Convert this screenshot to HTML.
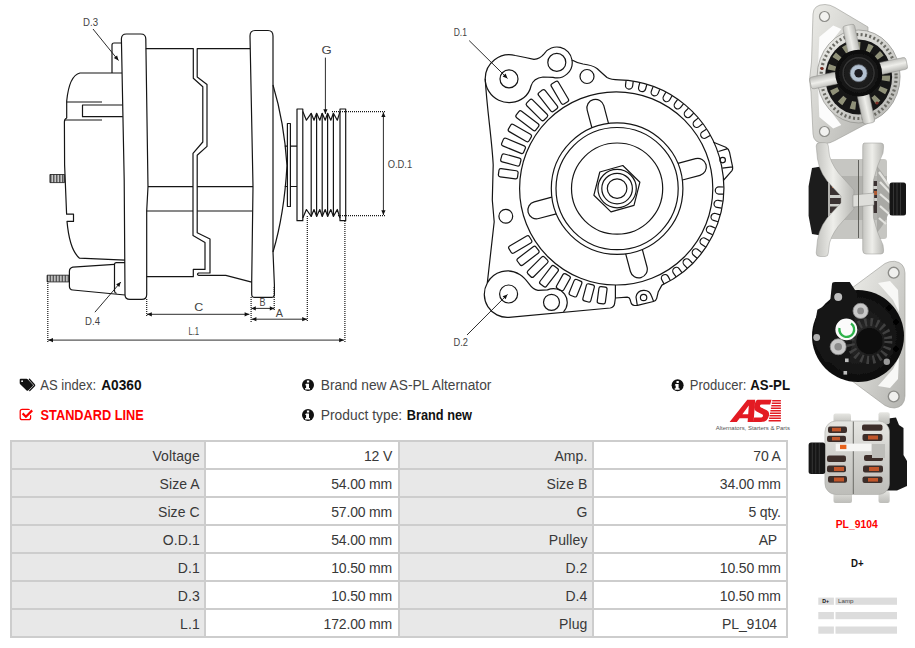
<!DOCTYPE html>
<html><head><meta charset="utf-8">
<style>
html,body{margin:0;padding:0;background:#fff;}
body{width:915px;height:648px;position:relative;overflow:hidden;font-family:"Liberation Sans",sans-serif;color:#333;}
.t{position:absolute;white-space:nowrap;font-size:13.5px;line-height:16px;height:16px;color:#333;}
.b{font-weight:bold;font-size:13px;color:#1a1a1a;}
.r{color:#ff0000;}
#tb{position:absolute;left:10px;top:440px;width:778px;height:198px;background:#cdcdcd;}
#tb div{position:absolute;width:192px;height:26px;line-height:29.4px;overflow:hidden;font-size:14px;color:#383838;text-align:right;box-sizing:border-box;white-space:nowrap;background:#fff;}
#tb div.l{background:#e8e8e8;}
#tb .c0{left:2px;padding-right:4.2px;letter-spacing:0.1px;}
#tb .c1{left:196px;padding-right:5.9px;letter-spacing:-0.17px;}
#tb .c2{left:390px;padding-right:4.5px;letter-spacing:0.1px;}
#tb .c3{left:584px;padding-right:5.3px;letter-spacing:-0.17px;}
</style></head><body>
<svg width="915" height="648" viewBox="0 0 915 648" style="position:absolute;left:0;top:0">
<g fill="none" stroke="#151515" stroke-width="1.2" stroke-linejoin="round" stroke-linecap="butt">
<path d="M126.4,34 L140.8,34 Q145.8,34 145.8,39 L148,186.7 L146.7,211 L146.7,294.4 Q146.7,299.4 141.7,299.4 L130,299.4 Q125,299.4 125,294.4 L124.2,180 L121.4,39 Q121.4,34 126.4,34 Z"/>
<path d="M121.5,43 L114,43 Q112,43 112,45 L112,73"/>
<path d="M122,73 L80,73 C71,75 68,88 66.7,101 L66.7,118 Q64.4,119 64.4,122 L64.6,165 L66.6,214.2 L73.5,214.2 L73.5,221.4 L67,221.4 C68.5,238 72,252 79.5,258.2 L125,260.2"/>
<path d="M66.7,102 L102,102 M64.6,120 L102,120 M122.5,105 L82.5,105 L82.5,116.7 L122.8,116.7"/>
<path d="M50,178.5 L64.6,178.5" stroke-width="8" stroke-dasharray="0.75 0.75" stroke="#222"/>
<rect x="49.9" y="174.5" width="14.7" height="8.1" stroke-width="0.8"/>
<path d="M125,262.6 L116.4,262.6 Q114.5,262.6 114.5,264.6 L114.5,291 Q114.5,292.8 116.5,293.4"/>
<path d="M114.4,264.4 L72.8,267.2 Q69.4,268 69.4,271.5 L69.4,286.2 Q69.4,289.6 72.8,290 L125,295"/>
<path d="M47.2,278.5 L69.4,278.5" stroke-width="6.4" stroke-dasharray="0.75 0.75" stroke="#222"/>
<rect x="47.1" y="275.2" width="22.3" height="6.7" stroke-width="0.8"/>
<path d="M145.8,48.6 L193.3,48.6 L193.3,78.3 L202.8,86.7 L202.8,142 L193,153.3 L193,235.5 L205,242.5 L205,269.4 L193.3,269.4 L193.3,276.7 L146.7,276.7"/>
<path d="M250,48.6 L197.2,48.6 L197.2,77 L207,84.4 L207,146.4 L197.2,155.3 L197.2,232.8 L210,239 L210,273 L198.5,273 Q196.5,274.2 198.5,275.3 L225.8,275.3 L251.7,282.2"/>
<path d="M148,186.7 L193,186.7 M197.2,186.7 L253,186.7 M146.7,211 L193,211 M197.2,211 L252.2,211"/>
<path d="M255,30.5 L268,30.5 Q273,30.5 273,36 L273,252 L274.4,285 L274.4,294.2 Q274.4,297.4 271.4,297.4 L254.7,297.4 Q251.7,297.4 251.7,294.2 L251.7,282 L253,186.7 L250,36 Q250,30.5 255,30.5 Z"/>
<path d="M273,85 C279,105 285,135 287,165.6 C285,200 279,232 273,252"/>
<rect x="287.4" y="123.5" width="3" height="83"/>
<path d="M284.8,146.2 L287.4,146.2 M290.4,146.2 L297,146.2 M284.8,186.5 L287.4,186.5 M290.4,186.5 L297,186.5"/>
<rect x="297" y="109" width="5.8" height="111.7"/>
<rect x="340" y="109" width="5.7" height="111.7"/>
<path d="M302.8,111.6 L306.4,120.2 L311.2,113.3 L314,120.2 L316.6,113.3 L319.8,120.2 L322.2,113.3 L325.2,120.2 L327.6,113.3 L330.8,120.2 L333.4,113.3 L337.3,120.2 L340,111.6"/>
<path d="M302.8,218.1 L306.4,209.5 L311.2,216.4 L314,209.5 L316.6,216.4 L319.8,209.5 L322.2,216.4 L325.2,209.5 L327.6,216.4 L330.8,209.5 L333.4,216.4 L337.3,209.5 L340,218.1"/>
<path d="M311.2,113.3 L311.2,216.4 M316.6,113.3 L316.6,216.4 M322.2,113.3 L322.2,216.4 M327.6,113.3 L327.6,216.4 M333.4,113.3 L333.4,216.4 "/>
<g stroke-dasharray="1 1" stroke-width="1.2">
<path d="M332,111.6 L386,111.6 M338,215.7 L386,215.7 M146.7,299 L146.7,317 M251.1,297 L251.1,322 M274.2,287 L274.2,311 M307.3,216 L307.3,322 M344.9,221 L344.9,343 M47.8,281 L47.8,342"/>
</g>
<path d="M383.4,112.3 L383.4,215" stroke-width="0.9"/><path d="M383.4,215 L381.3,210.2 L385.5,210.2 Z" fill="#111" stroke="none"/><path d="M383.4,112.3 L385.5,117.1 L381.3,117.1 Z" fill="#111" stroke="none"/>
<path d="M325.4,57.6 L325.4,114" stroke-width="0.9"/><path d="M325.4,114 L323.3,109.2 L327.5,109.2 Z" fill="#111" stroke="none"/>
<path d="M147,314.3 L249.4,314.3" stroke-width="0.9"/><path d="M249.4,314.3 L244.6,316.4 L244.6,312.2 Z" fill="#111" stroke="none"/><path d="M147,314.3 L151.8,312.2 L151.8,316.4 Z" fill="#111" stroke="none"/>
<path d="M251.4,308.4 L274.2,308.4" stroke-width="0.9"/><path d="M274.2,308.4 L269.8,310.5 L269.8,306.3 Z" fill="#111" stroke="none"/><path d="M251.4,308.4 L255.8,306.3 L255.8,310.5 Z" fill="#111" stroke="none"/>
<path d="M251.6,319.2 L307,319.2" stroke-width="0.9"/><path d="M307,319.2 L302.2,321.3 L302.2,317.1 Z" fill="#111" stroke="none"/><path d="M251.6,319.2 L256.4,317.1 L256.4,321.3 Z" fill="#111" stroke="none"/>
<path d="M48.2,340.1 L344,340.1" stroke-width="0.9"/><path d="M344,340.1 L339.2,342.2 L339.2,338 Z" fill="#111" stroke="none"/><path d="M48.2,340.1 L53,338 L53,342.2 Z" fill="#111" stroke="none"/>
<path d="M93,29 L118.5,60.5" stroke-width="0.9"/><path d="M118.5,60.5 L113.8,58.1 L117.1,55.4 Z" fill="#111" stroke="none"/>
<path d="M94.9,312.2 L120.8,282" stroke-width="0.9"/><path d="M120.8,282 L119.3,287 L116.1,284.3 Z" fill="#111" stroke="none"/>
<path d="M469.2,40.6 L507.5,78.4" stroke-width="0.9"/><path d="M507.5,78.4 L502.6,76.5 L505.6,73.5 Z" fill="#111" stroke="none"/>
<path d="M467,335 L507.5,294.4" stroke-width="0.9"/><path d="M507.5,294.4 L505.6,299.3 L502.6,296.3 Z" fill="#111" stroke="none"/>
<circle cx="617.1" cy="188.6" r="9.8" />
<circle cx="617.1" cy="188.6" r="15.3" />
<circle cx="617.1" cy="188.6" r="19.2" />
<circle cx="617.1" cy="188.6" r="45.6" />
<circle cx="617.1" cy="188.6" r="61.1" />
<circle cx="617.1" cy="188.6" r="65.8" />
<circle cx="616.2" cy="188.4" r="96.6" />
<polygon points="622.8,165.5 639.9,182.2 634,205.4 611,211.9 593.9,195.2 599.8,172"/>
<path transform="rotate(-15 617.1 188.6)" d="M608.5,123.3 L608.5,105.1 A8.6,8.6 0 0 1 625.7,105.1 L625.7,123.3"/>
<path transform="rotate(75 617.1 188.6)" d="M608.5,123.3 L608.5,105.1 A8.6,8.6 0 0 1 625.7,105.1 L625.7,123.3"/>
<path transform="rotate(165 617.1 188.6)" d="M608.5,123.3 L608.5,105.1 A8.6,8.6 0 0 1 625.7,105.1 L625.7,123.3"/>
<path transform="rotate(255 617.1 188.6)" d="M608.5,123.3 L608.5,105.1 A8.6,8.6 0 0 1 625.7,105.1 L625.7,123.3"/>
<path transform="rotate(7.3 616 187.6)" d="M612.4,80.1 L612.4,84.7 A3.6,3.6 0 0 0 619.6,84.7 L619.6,80.1"/>
<path transform="rotate(14.7 616 187.6)" d="M612.4,80.1 L612.4,84.7 A3.6,3.6 0 0 0 619.6,84.7 L619.6,80.1"/>
<path transform="rotate(22.1 616 187.6)" d="M612.4,80.1 L612.4,84.7 A3.6,3.6 0 0 0 619.6,84.7 L619.6,80.1"/>
<path transform="rotate(29.5 616 187.6)" d="M612.4,80.1 L612.4,84.7 A3.6,3.6 0 0 0 619.6,84.7 L619.6,80.1"/>
<path transform="rotate(36.9 616 187.6)" d="M612.4,80.1 L612.4,84.7 A3.6,3.6 0 0 0 619.6,84.7 L619.6,80.1"/>
<path transform="rotate(44.3 616 187.6)" d="M612.4,80.1 L612.4,84.7 A3.6,3.6 0 0 0 619.6,84.7 L619.6,80.1"/>
<path transform="rotate(51.7 616 187.6)" d="M612.4,80.1 L612.4,84.7 A3.6,3.6 0 0 0 619.6,84.7 L619.6,80.1"/>
<path transform="rotate(59.1 616 187.6)" d="M612.4,80.1 L612.4,84.7 A3.6,3.6 0 0 0 619.6,84.7 L619.6,80.1"/>
<path transform="rotate(91.6 616 187.6)" d="M612.4,80.1 L612.4,84.7 A3.6,3.6 0 0 0 619.6,84.7 L619.6,80.1"/>
<path transform="rotate(99.1 616 187.6)" d="M612.4,80.1 L612.4,84.7 A3.6,3.6 0 0 0 619.6,84.7 L619.6,80.1"/>
<path transform="rotate(106.6 616 187.6)" d="M612.4,80.1 L612.4,84.7 A3.6,3.6 0 0 0 619.6,84.7 L619.6,80.1"/>
<path transform="rotate(114.1 616 187.6)" d="M612.4,80.1 L612.4,84.7 A3.6,3.6 0 0 0 619.6,84.7 L619.6,80.1"/>
<path transform="rotate(121.6 616 187.6)" d="M612.4,80.1 L612.4,84.7 A3.6,3.6 0 0 0 619.6,84.7 L619.6,80.1"/>
<path transform="rotate(129.1 616 187.6)" d="M612.4,80.1 L612.4,84.7 A3.6,3.6 0 0 0 619.6,84.7 L619.6,80.1"/>
<path transform="rotate(136.6 616 187.6)" d="M612.4,80.1 L612.4,84.7 A3.6,3.6 0 0 0 619.6,84.7 L619.6,80.1"/>
<path transform="rotate(144.1 616 187.6)" d="M612.4,80.1 L612.4,84.7 A3.6,3.6 0 0 0 619.6,84.7 L619.6,80.1"/>
<path transform="rotate(151.6 616 187.6)" d="M612.4,80.1 L612.4,84.7 A3.6,3.6 0 0 0 619.6,84.7 L619.6,80.1"/>
<rect transform="rotate(187.5 616.2 188.4)" x="612.1" y="72.2" width="8.2" height="16.9" rx="2" ry="2"/>
<rect transform="rotate(194.8 616.2 188.4)" x="612.1" y="71.5" width="8.2" height="17.6" rx="2" ry="2"/>
<rect transform="rotate(202.2 616.2 188.4)" x="612.1" y="72.2" width="8.2" height="16.9" rx="2" ry="2"/>
<rect transform="rotate(209.4 616.2 188.4)" x="612.1" y="72.4" width="8.2" height="16.7" rx="2" ry="2"/>
<rect transform="rotate(217.4 616.2 188.4)" x="612.1" y="66.4" width="8.2" height="22.7" rx="2" ry="2"/>
<rect transform="rotate(225 616.2 188.4)" x="612.1" y="65.6" width="8.2" height="23.5" rx="2" ry="2"/>
<rect transform="rotate(232.6 616.2 188.4)" x="612.1" y="65.7" width="8.2" height="23.4" rx="2" ry="2"/>
<rect transform="rotate(239.7 616.2 188.4)" x="612.1" y="65.4" width="8.2" height="23.7" rx="2" ry="2"/>
<rect transform="rotate(277.7 616.2 188.4)" x="612.1" y="69.8" width="8.2" height="19.3" rx="2" ry="2"/>
<rect transform="rotate(285.1 616.2 188.4)" x="612.1" y="69.4" width="8.2" height="19.7" rx="2" ry="2"/>
<rect transform="rotate(292.5 616.2 188.4)" x="612.1" y="65.4" width="8.2" height="23.7" rx="2" ry="2"/>
<rect transform="rotate(299.9 616.2 188.4)" x="612.1" y="65.4" width="8.2" height="23.7" rx="2" ry="2"/>
<rect transform="rotate(307.3 616.2 188.4)" x="612.1" y="64.4" width="8.2" height="24.7" rx="2" ry="2"/>
<rect transform="rotate(314.7 616.2 188.4)" x="612.1" y="64.7" width="8.2" height="24.4" rx="2" ry="2"/>
<rect transform="rotate(322.1 616.2 188.4)" x="612.1" y="65.4" width="8.2" height="23.7" rx="2" ry="2"/>
<rect transform="rotate(329.5 616.2 188.4)" x="612.1" y="65.6" width="8.2" height="23.5" rx="2" ry="2"/>
<circle cx="509" cy="78.9" r="9" />
<circle cx="508.6" cy="294" r="9" />
<circle cx="556.8" cy="62.4" r="9" />
<circle cx="551.5" cy="302.3" r="8" />
<circle cx="587" cy="76.5" r="7" />
<circle cx="505.8" cy="216.3" r="6.9" />
<circle cx="722.7" cy="160.1" r="2.7" />
<circle cx="643.6" cy="297.5" r="3.2" />
<path d="M544.3,53.6 A15.3,15.3 0 0 1 572,60 Q576,62.5 583,64 Q592,65 597,68.5 Q603,74 607,77.5 Q611,79.8 619,79.8 A107.8,107.8 0 0 1 661.9,285.1 L658.3,291.7 L656.7,298.3 Q656,301 653.4,301.5 L637.5,305.4 L634.5,305.5 Q631.5,305 631,302.6 L629.9,299 Q629.5,297.3 627.2,297.2 L615.4,298 L614.6,303.7 Q614,307.5 610.2,308 L508.9,317.3 A23,23 0 0 1 487.3,283 L494.2,221.7 L492.3,200 L493.2,165 C492,140 487,110 485.2,78.7 A24,24 0 0 1 515.4,55.5 Q526,57.5 534,59.3 Q540,59 544.3,53.6 Z"/>
<path d="M615.4,285 L615.4,298"/>
<path d="M637.3,305.4 L636,297 A8,8 0 0 1 651.5,296 L653.6,301.4"/>
<path d="M485.2,78.7 A24,24 0 0 0 524,97.5 Q529.5,93 531,86 Q533.5,78 543,77 L553,77.3 A15.3,15.3 0 0 0 572,60"/>
<path d="M487.3,283 A23,23 0 0 1 519.7,274.4 Q524,277 528.9,283.6 Q533,289.5 538,290.4 L547.5,289.9 A13.8,13.8 0 0 1 563.5,311.8"/>
<path d="M713.5,142.2 L725.8,147.2 Q728.5,148.5 729.5,152.1 L732.6,166.9 Q733,169 732,170.6 L723.3,180.5 M718.4,151.5 L727.7,148.6 M722.3,168.1 L732.6,166.9"/>
</g>
<g font-family="Liberation Sans, sans-serif" font-size="10.6" fill="#444">
<text x="83" y="25.9" textLength="15" lengthAdjust="spacingAndGlyphs">D.3</text>
<text x="85.1" y="324.9" textLength="14.9" lengthAdjust="spacingAndGlyphs">D.4</text>
<text x="194.3" y="311.1" textLength="9" lengthAdjust="spacingAndGlyphs">C</text>
<text x="188.4" y="334.8" textLength="10.8" lengthAdjust="spacingAndGlyphs">L.1</text>
<text x="259.5" y="306.1" textLength="6" lengthAdjust="spacingAndGlyphs">B</text>
<text x="275.8" y="317.2" textLength="7.2" lengthAdjust="spacingAndGlyphs">A</text>
<text x="321.6" y="53.6" textLength="10.2" lengthAdjust="spacingAndGlyphs">G</text>
<text x="387.7" y="168.1" textLength="24.5" lengthAdjust="spacingAndGlyphs">O.D.1</text>
<text x="453.7" y="35.5" textLength="13.3" lengthAdjust="spacingAndGlyphs">D.1</text>
<text x="453.5" y="345.8" textLength="14.5" lengthAdjust="spacingAndGlyphs">D.2</text>
</g>
<path fill="#111" d="M19.7,379.8 Q19.7,378.8 20.7,378.8 L26.6,378.8 Q27.2,378.8 27.7,379.3 L32.7,384.4 Q33.5,385.2 32.7,386 L28.2,390.4 Q27.4,391.2 26.6,390.4 L20.2,384.2 Q19.7,383.7 19.7,383 Z"/>
<circle cx="22.1" cy="381.2" r="0.9" fill="#fff"/>
<path fill="none" stroke="#111" stroke-width="1.3" stroke-linejoin="round" stroke-linecap="round" d="M29.4,379.3 L34.4,384.7 Q34.9,385.2 34.4,385.8 L29.7,390.6"/>
<path fill="none" stroke="#ff0000" stroke-width="1.25" stroke-linecap="round" d="M29.2,409.5 Q28.6,409.3 28,409.3 L22.2,409.3 Q20.2,409.3 20.2,411.3 L20.2,417.7 Q20.2,419.7 22.2,419.7 L28.6,419.7 Q30.6,419.7 30.6,417.7 L30.6,415.6"/>
<path fill="none" stroke="#ff0000" stroke-width="2.2" stroke-linejoin="miter" d="M22.6,413.4 L25.9,416.7 L32.2,410.4"/>
<circle cx="308" cy="385" r="6" fill="#111"/><path fill="#fff" d="M306.9,380.6 h2.3 v2 h-2.3 z M305.9,383.7 h3.1 v4.3 h1 v1.5 h-4.9 v-1.5 h1 v-2.8 h-1 z"/>
<circle cx="308" cy="414.9" r="6" fill="#111"/><path fill="#fff" d="M306.9,410.5 h2.3 v2 h-2.3 z M305.9,413.6 h3.1 v4.3 h1 v1.5 h-4.9 v-1.5 h1 v-2.8 h-1 z"/>
<circle cx="677.6" cy="385.3" r="6" fill="#111"/><path fill="#fff" d="M676.5,380.9 h2.3 v2 h-2.3 z M675.5,384 h3.1 v4.3 h1 v1.5 h-4.9 v-1.5 h1 v-2.8 h-1 z"/>
<text x="40.2" y="389.8" font-family="Liberation Sans, sans-serif" font-size="14" fill="#444" textLength="55.9" lengthAdjust="spacingAndGlyphs">AS index:</text>
<text x="101.2" y="389.8" font-family="Liberation Sans, sans-serif" font-size="14" font-weight="bold" fill="#111" textLength="40.4" lengthAdjust="spacingAndGlyphs">A0360</text>
<text x="40.6" y="419.6" font-family="Liberation Sans, sans-serif" font-size="14" font-weight="bold" fill="#ff0000" textLength="103.2" lengthAdjust="spacingAndGlyphs">STANDARD LINE</text>
<text x="320.8" y="389.8" font-family="Liberation Sans, sans-serif" font-size="14" fill="#444" textLength="170.6" lengthAdjust="spacingAndGlyphs">Brand new AS-PL Alternator</text>
<text x="320.8" y="419.7" font-family="Liberation Sans, sans-serif" font-size="14" fill="#444" textLength="81.4" lengthAdjust="spacingAndGlyphs">Product type:</text>
<text x="406.7" y="419.7" font-family="Liberation Sans, sans-serif" font-size="14" font-weight="bold" fill="#111" textLength="65.3" lengthAdjust="spacingAndGlyphs">Brand new</text>
<text x="689.8" y="390" font-family="Liberation Sans, sans-serif" font-size="14" fill="#444" textLength="56.6" lengthAdjust="spacingAndGlyphs">Producer:</text>
<text x="750.3" y="390" font-family="Liberation Sans, sans-serif" font-size="14" font-weight="bold" fill="#111" textLength="39.7" lengthAdjust="spacingAndGlyphs">AS-PL</text>
<g fill="#e31b23"><path d="M729.6,422 L747.3,399.8 L755.2,399.8 L753.6,422 L747.6,422 L747.9,418.2 L739.6,418.2 L736.8,422 Z M742.4,414.3 L748.2,414.3 L748.8,405.6 Z" fill-rule="evenodd"/><path d="M757.5,399.8 L771.5,399.8 L770.2,404.4 L761.5,404.4 Q760.3,404.4 760,405.6 Q759.8,406.8 761,407.4 L766.8,410.2 Q769.8,411.8 769,415.4 Q767.6,422 761,422 L752.8,422 L754.2,417.4 L761.3,417.4 Q762.7,417.4 763,416 Q763.2,414.9 762,414.3 L756.6,411.6 Q753.4,410 754.3,405.8 Q755.6,399.8 757.5,399.8 Z"/><rect x="772.2" y="400" width="8.7" height="1.5"/><rect x="771.8" y="402.5" width="9.1" height="1.5"/><rect x="771.3" y="405" width="9.6" height="1.5"/><rect x="770.9" y="407.5" width="10" height="1.5"/><rect x="770.4" y="410" width="10.5" height="1.5"/><rect x="770" y="412.5" width="10.9" height="1.5"/><rect x="769.5" y="415" width="11.4" height="1.5"/><rect x="769.1" y="417.5" width="11.8" height="1.5"/><rect x="768.6" y="420" width="12.3" height="1.5"/></g>
<text x="715.8" y="430.3" font-family="Liberation Sans, sans-serif" font-size="4.6" fill="#555" textLength="74.2" lengthAdjust="spacingAndGlyphs">Alternators, Starters &amp; Parts</text>
<text x="835.7" y="528.1" font-family="Liberation Sans, sans-serif" font-weight="bold" font-size="10.5" fill="#ff0000" textLength="42" lengthAdjust="spacingAndGlyphs">PL_9104</text>
<text x="851" y="566.7" font-family="Liberation Sans, sans-serif" font-weight="bold" font-size="10.5" fill="#111" textLength="12.6" lengthAdjust="spacingAndGlyphs">D+</text>
<rect x="818.3" y="597.6" width="15.6" height="7.2" fill="#dcdcdc"/><rect x="835.5" y="597.6" width="61.5" height="7.2" fill="#dcdcdc"/>
<rect x="818.3" y="612" width="15.6" height="7.2" fill="#dcdcdc"/><rect x="835.5" y="612" width="61.5" height="7.2" fill="#dcdcdc"/>
<rect x="818.3" y="626.5" width="15.6" height="7.2" fill="#dcdcdc"/><rect x="835.5" y="626.5" width="61.5" height="7.2" fill="#dcdcdc"/>
<text x="822.3" y="603.3" font-family="Liberation Sans, sans-serif" font-weight="bold" font-size="5.2" fill="#111">D+</text>
<text x="838" y="603.2" font-family="Liberation Sans, sans-serif" font-size="5" fill="#444" textLength="15.5" lengthAdjust="spacingAndGlyphs">Lamp</text>
<defs>
<linearGradient id="sv" x1="0" y1="0" x2="1" y2="1"><stop offset="0" stop-color="#ecece8"/><stop offset="0.5" stop-color="#d2d2ce"/><stop offset="1" stop-color="#b4b4b0"/></linearGradient>
<linearGradient id="sv2" x1="0" y1="0" x2="1" y2="0"><stop offset="0" stop-color="#c4c4c0"/><stop offset="0.45" stop-color="#eeeeea"/><stop offset="1" stop-color="#b8b8b4"/></linearGradient>
<linearGradient id="sv3" x1="0" y1="0" x2="0" y2="1"><stop offset="0" stop-color="#e6e6e2"/><stop offset="0.5" stop-color="#cfcfcb"/><stop offset="1" stop-color="#bdbdb9"/></linearGradient>
<radialGradient id="blk" cx="0.5" cy="0.5" r="0.5"><stop offset="0" stop-color="#2e2e2e"/><stop offset="0.7" stop-color="#161616"/><stop offset="1" stop-color="#0c0c0c"/></radialGradient>
<filter id="bl" x="-5%" y="-5%" width="110%" height="110%"><feGaussianBlur stdDeviation="0.55"/></filter>
</defs>
<g filter="url(#bl)">
<!-- photo 1 : front -->
<g>
<path d="M813,14 Q813.5,4.5 825,4.5 Q830,4.5 835,7.5 L868,27 L868,123 L835,140.5 Q830,143.5 825,143.5 Q813.5,143.5 813,134 L811,92 L809.5,80 L811.5,62 Z" fill="url(#sv)" stroke="#9a9a96" stroke-width="0.6"/>
<path d="M819.3,37 L833.2,25.5 L841.3,29 L829.7,44 L824,69.5 L818.2,64.9 Z" fill="#fcfcfc"/>
<path d="M819.3,117 L833.2,128.5 L841.3,125 L829.7,110 L824,84.5 L818.2,89 Z" fill="#fcfcfc"/>
<ellipse cx="858.6" cy="76.5" rx="41.5" ry="46.5" fill="url(#sv)" stroke="#8e8e8a" stroke-width="0.7"/>
<ellipse cx="858.6" cy="76.5" rx="37.5" ry="42" fill="none" stroke="#6a6a64" stroke-width="3.2" stroke-dasharray="2 2.4"/>
<ellipse cx="858.6" cy="77" rx="33.5" ry="37.5" fill="#161616"/>
<ellipse cx="858.6" cy="76" rx="27.5" ry="30" fill="none" stroke="#8f9078" stroke-width="8" stroke-dasharray="5 7"/>
<g fill="url(#sv2)" stroke="#8e8e8a" stroke-width="0.5">
<rect x="852.6" y="24" width="12" height="28" rx="2.5" transform="rotate(-12 858.6 73.2)"/>
<rect x="852.6" y="24" width="12" height="28" rx="2.5" transform="rotate(78 858.6 73.2)"/>
<rect x="852.6" y="22" width="12" height="30" rx="2.5" transform="rotate(168 858.6 73.2)"/>
<rect x="852.6" y="24" width="12" height="28" rx="2.5" transform="rotate(258 858.6 73.2)"/>
</g>
<circle cx="858.6" cy="73.2" r="23.4" fill="url(#blk)"/>
<circle cx="858.6" cy="73.2" r="15.5" fill="none" stroke="#363636" stroke-width="1.4"/>
<circle cx="858.6" cy="73.2" r="8.4" fill="#b4c2d2" stroke="#7d8894" stroke-width="0.8"/>
<circle cx="858.6" cy="73.2" r="4.2" fill="#1d1d22"/>
<circle cx="824.5" cy="16.5" r="5" fill="#f2f2f0" stroke="#8c8c88" stroke-width="1.2"/>
<circle cx="824.5" cy="131.5" r="5" fill="#f2f2f0" stroke="#8c8c88" stroke-width="1.2"/>
<circle cx="822" cy="68.5" r="1.6" fill="#7a2a20"/><circle cx="877" cy="103" r="1.6" fill="#7a2a20"/>
</g>
<!-- photo 2 : side -->
<g>
<path d="M812,168 L824,166 L830,178 L830,222 L824,236 L812,234 L808.6,216 L808.6,186 Z" fill="#1b1b1b"/>
<rect x="828" y="159" width="59" height="80" rx="3" fill="#c6c6c2"/><rect x="828" y="176" width="59" height="44" fill="#b2b2ae"/>
<rect x="830" y="181" width="14" height="32" fill="#3a3230"/><rect x="832" y="184" width="9" height="4" fill="#b05a30"/><rect x="830" y="195" width="14" height="3" fill="#cfcfcb"/><rect x="830" y="204" width="14" height="2.5" fill="#cfcfcb"/>
<rect x="872" y="181" width="15" height="32" fill="#3a3230"/><rect x="874" y="191" width="9" height="4" fill="#b05a30"/><rect x="872" y="186" width="15" height="3" fill="#cfcfcb"/><rect x="872" y="198" width="15" height="3" fill="#cfcfcb"/>
<path d="M877,166 Q891,182 891,199 Q891,216 877,233 Z" fill="#a9a9a5"/>
<path d="M879,172 L889,186 M880,182 L890.5,193 M880,194 L890.5,203 M880,206 L889,214 M879,218 L886,224" stroke="#e4e4e0" stroke-width="2.2" fill="none"/>
<path d="M816.2,146 Q816.2,142.6 820,142.6 L825,142.6 Q828.3,142.6 828.3,146 L829.5,156 Q833,168 843,178 L854,190 L854,209 L843,221 Q833,231 829.5,243 L828.3,253 Q828.3,256.5 825,256.5 L820,256.5 Q816.2,256.5 816.2,253 L817.5,240 Q820,224 833,211.5 L841,203 L841,196 L833,187.5 Q820,175 817.5,159 Z" fill="url(#sv2)" stroke="#9a9a96" stroke-width="0.5"/>
<path d="M864,143 L881,143 Q884,143 883.6,147 L883,153 Q877,165 873.5,180 L873,199 L873.5,218 Q877,233 883,245 L883.6,250 Q884,254 881,254 L866,254 Q862.7,254 862.7,250 L862.7,147 Q862.7,143 864,143 Z" fill="url(#sv2)" stroke="#9a9a96" stroke-width="0.5"/>
<path d="M853,195 L874,193 L874,205 L853,207 Z" fill="#dededa" stroke="#8a8a86" stroke-width="0.5"/>
<path d="M858.5,160 L858.5,238" stroke="#55554f" stroke-width="0.9"/>
<rect x="889.5" y="182.5" width="16.5" height="33" rx="2.5" fill="#141414"/>
<path d="M893.5,183 L893.5,215 M897,183 L897,215 M900.5,183 L900.5,215" stroke="#3a3a3a" stroke-width="0.9"/>
</g>
<!-- photo 3 : rear -->
<g>
<path d="M852,288 L885,263.5 Q889.5,261 894.5,261.3 Q904.5,262.5 905,273 L905,396 Q904.5,407 894.5,408 Q889.5,408 885,405.5 L852,381 Z" fill="url(#sv)" stroke="#9a9a96" stroke-width="0.6"/>
<path d="M878,283 L890,281 L898,290 L899,312 L893,300 Z" fill="#f8f8f6"/><path d="M878,386 L890,388 L898,379 L899,357 L893,369 Z" fill="#f8f8f6"/>
<circle cx="858" cy="336" r="46" fill="url(#blk)"/>
<path d="M813.9,329 L817.4,309.7 L830,302.8 L832,284 Q832,282 835,282 L849.7,282 L857,293 L850,360 L825,362 L813.9,343 Z" fill="#151515"/>
<circle cx="869.4" cy="341" r="13" fill="#0a0a0a"/>
<circle cx="869.4" cy="341" r="19" fill="none" stroke="#404040" stroke-width="8" stroke-dasharray="2.4 3.6"/>
<circle cx="846.3" cy="329.4" r="10.9" fill="#fbfbfb"/>
<path d="M839.5,328 A7.4,7.4 0 1 0 851,323.5" fill="none" stroke="#2fb24c" stroke-width="2.3"/>
<circle cx="860.6" cy="310.9" r="7.6" fill="#c9c9c9" stroke="#8a8a8a" stroke-width="0.8"/><circle cx="860.6" cy="310.9" r="3.4" fill="#8c8c8c"/>
<circle cx="838.2" cy="346.8" r="8" fill="#c9c9c9" stroke="#8a8a8a" stroke-width="0.8"/><circle cx="838.2" cy="346.8" r="3.8" fill="#8c8c8c"/>
<circle cx="838.2" cy="297" r="4" fill="#bdbdbd"/><circle cx="816.7" cy="337.5" r="3.4" fill="#b0b0b0"/><circle cx="886.8" cy="361.8" r="3.2" fill="#9a9a9a"/>
<circle cx="889" cy="308" r="2.8" fill="#030303"/><circle cx="896" cy="322" r="2.8" fill="#030303"/><circle cx="896" cy="349" r="2.8" fill="#030303"/>
<rect x="845" y="358.5" width="3.6" height="3.6" fill="#bdbdbd"/><rect x="843.5" y="371" width="3.6" height="3.6" fill="#bdbdbd"/>
<circle cx="893.7" cy="272.7" r="5.4" fill="#f0f0ee" stroke="#8c8c88" stroke-width="1.4"/>
<circle cx="893.7" cy="396.5" r="5.4" fill="#f0f0ee" stroke="#8c8c88" stroke-width="1.4"/>
</g>
<!-- photo 4 : side 2 -->
<g>
<path d="M884.5,419 L896,417.5 L899,425 L903.5,428 L903.5,455 L907,461 L907,486 L897,490.5 L884.5,490.5 Z" fill="#181818"/>
<rect x="833.5" y="413.4" width="17.5" height="12" rx="2" fill="url(#sv3)"/><rect x="878.5" y="412.3" width="11.2" height="12" rx="2" fill="url(#sv3)"/>
<rect x="833.5" y="491" width="18.5" height="12" rx="2" fill="url(#sv3)"/><rect x="878.5" y="491" width="11.2" height="12" rx="2" fill="url(#sv3)"/>
<rect x="824.9" y="421" width="64.6" height="73.5" rx="11" fill="url(#sv3)" stroke="#a4a4a0" stroke-width="0.5"/>
<g fill="#3c2d2a">
<rect x="828" y="426.5" width="19" height="6.5" rx="2"/><rect x="827" y="435.8" width="19" height="6.2" rx="2"/>
<rect x="827" y="455.5" width="19" height="6.5" rx="2"/><rect x="827" y="465.5" width="19" height="6.8" rx="2"/><rect x="828" y="476" width="19" height="6.8" rx="2"/>
<rect x="862" y="424.5" width="20.5" height="6.2" rx="2"/><rect x="862.5" y="434" width="20" height="7" rx="2"/>
<rect x="864" y="455" width="19" height="6" rx="2"/><rect x="863" y="465.5" width="20" height="7" rx="2"/><rect x="862.5" y="476.5" width="20" height="6.5" rx="2"/>
</g>
<g fill="#c2562c"><rect x="834" y="467" width="10" height="4"/><rect x="834" y="477.5" width="10" height="4"/><rect x="868" y="435.5" width="10" height="4"/><rect x="869" y="467" width="10" height="4"/><rect x="868" y="478" width="10" height="3.6"/><rect x="832" y="427.8" width="9" height="3.6"/><rect x="832" y="437" width="8" height="3.4"/></g>
<path d="M853.3,421.5 L853.3,494" stroke="#6a6a66" stroke-width="1"/>
<rect x="835.7" y="443.6" width="35.6" height="7.6" fill="#f6f6f4"/><rect x="840" y="444.8" width="6.4" height="4.3" fill="#e8641e"/>
<rect x="872" y="444" width="13" height="14" fill="#bdbdb9"/>
<rect x="808.6" y="442.6" width="16.6" height="31.4" rx="2.5" fill="#141414"/>
<path d="M812.3,443 L812.3,473.5 M815.8,443 L815.8,473.5 M819.3,443 L819.3,473.5" stroke="#3a3a3a" stroke-width="0.9"/>
</g>
</g>

</svg>
<div id="tb">
<div class="c0 l" style="top:2px">Voltage</div>
<div class="c1" style="top:2px">12 V</div>
<div class="c2 l" style="top:2px">Amp.</div>
<div class="c3" style="top:2px">70 A</div>
<div class="c0 l" style="top:30px">Size A</div>
<div class="c1" style="top:30px">54.00 mm</div>
<div class="c2 l" style="top:30px">Size B</div>
<div class="c3" style="top:30px">34.00 mm</div>
<div class="c0 l" style="top:58px">Size C</div>
<div class="c1" style="top:58px">57.00 mm</div>
<div class="c2 l" style="top:58px">G</div>
<div class="c3" style="top:58px">5 qty.</div>
<div class="c0 l" style="top:86px">O.D.1</div>
<div class="c1" style="top:86px">54.00 mm</div>
<div class="c2 l" style="top:86px">Pulley</div>
<div class="c3" style="top:86px">AP&nbsp;</div>
<div class="c0 l" style="top:114px">D.1</div>
<div class="c1" style="top:114px">10.50 mm</div>
<div class="c2 l" style="top:114px">D.2</div>
<div class="c3" style="top:114px">10.50 mm</div>
<div class="c0 l" style="top:142px">D.3</div>
<div class="c1" style="top:142px">10.50 mm</div>
<div class="c2 l" style="top:142px">D.4</div>
<div class="c3" style="top:142px">10.50 mm</div>
<div class="c0 l" style="top:170px">L.1</div>
<div class="c1" style="top:170px">172.00 mm</div>
<div class="c2 l" style="top:170px">Plug</div>
<div class="c3" style="top:170px">PL_9104&nbsp;</div>
</div>
</body></html>
